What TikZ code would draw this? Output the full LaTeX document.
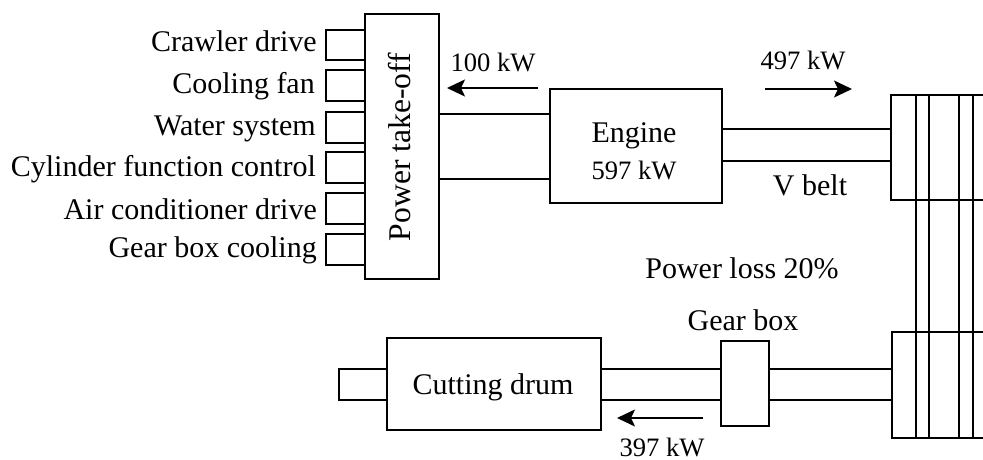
\documentclass[tikz,border=0pt]{standalone}
\usepackage{fontspec}
\setmainfont{Liberation Serif}
\usepackage{tikz}
\usetikzlibrary{arrows.meta, positioning, calc}
\newcommand{\fnorm}{\fontsize{30}{35}\selectfont}
\newcommand{\fkw}{\fontsize{26.6}{31}\selectfont}

\begin{document}
\begin{tikzpicture}[x=1pt, y=-1pt, font=\fnorm,
	caja/.style={rectangle, draw=black, line width=2pt, inner sep=0pt, align=center},
	stub/.style={caja, minimum width=39.5pt, minimum height=30.5pt},
	etq/.style={anchor=base east, inner sep=0pt},
	txt/.style={anchor=base, inner sep=0pt},
	pot/.style={txt, font=\fkw},
	eje/.style={line width=1.6pt},
	fl/.style={-{Stealth[length=18pt, width=17pt, inset=4pt]}, line width=1.8pt}]

	\useasboundingbox (0,0) rectangle (983,460);

	% power take-off side
	\node[caja, minimum width=74pt, minimum height=265pt] (pto) at (402,146.5) {};
	\node[txt, rotate=90, font=\fontsize{31.6}{36}\selectfont] (ptotxt) at (410,147) {Power take-off};
	\node[stub] (s1) at (345.5,45) {};
	\node[stub] (s2) at (345.5,85.5) {};
	\node[stub] (s3) at (345.5,127.5) {};
	\node[stub] (s4) at (345.5,167.5) {};
	\node[stub] (s5) at (345.5,208.5) {};
	\node[stub] (s6) at (345.5,249.5) {};
	\node[etq] (crawler) at (317,52) {Crawler drive};
	\node[etq] (fan) at (315,94) {Cooling fan};
	\node[etq] (water) at (316,135) {Water system};
	\node[etq] (cyl) at (316,176) {Cylinder function control};
	\node[etq] (air) at (317,219) {Air conditioner drive};
	\node[etq] (gearcool) at (317,257) {Gear box cooling};

	% engine
	\node[caja, minimum width=172pt, minimum height=114pt] (engine) at (636,146) {};
	\node[txt] (enginetxt) at (634,142) {Engine};
	\node[pot] (enginekw) at (634,179) {597 kW};
	\coordinate (pa) at (0,114);
	\coordinate (pb) at (0,179);
	\draw[eje] (pa -| pto.east) -- (pa -| engine.west);
	\draw[eje] (pb -| pto.east) -- (pb -| engine.west);
	\node[pot] (kw100) at (493,71) {100 kW};
	\coordinate (a1) at (538,88);
	\coordinate (a2) at (447,88);
	\draw[fl] (a1) -- (a2);
	\node[pot] (kw497) at (803,70) {497 kW};
	\coordinate (b1) at (765,89);
	\coordinate (b2) at (852,89);
	\draw[fl] (b1) -- (b2);
	\node[txt] (vbelt) at (810,195) {V belt};
	\node[txt] (loss) at (742,278) {Power loss 20\%};

	% belt pulleys, cut off by the page edge
	\coordinate (t1) at (983,95);
	\coordinate (t2) at (891,95);
	\coordinate (t3) at (891,200);
	\coordinate (t4) at (983,200);
	\coordinate (u1) at (983,332);
	\coordinate (u2) at (892,332);
	\coordinate (u3) at (892,438);
	\coordinate (u4) at (983,438);
	\draw[line width=2pt] (t1) -- (t2) -- (t3) -- (t4);
	\draw[line width=2pt] (u1) -- (u2) -- (u3) -- (u4);
	\foreach \xv in {916,929,959,973}
		\draw[eje] (\xv,95) -- (\xv,438);
	\coordinate (ea) at (0,129);
	\coordinate (eb) at (0,161);
	\draw[eje] (ea -| engine.east) -- (ea -| t2);
	\draw[line width=2pt] (eb -| engine.east) -- (eb -| t2);

	% cutting drum line
	\node[caja, minimum width=214pt, minimum height=92pt] (drum) at (494,384) {};
	\node[txt] (drumtxt) at (493,394) {Cutting drum};
	\node[caja, minimum width=48pt, minimum height=85pt] (gear) at (745,383.5) {};
	\node[caja, minimum width=48pt, minimum height=31pt] (tip) at (363,384.5) {};
	\node[txt] (geartxt) at (743,330) {Gear box};
	\coordinate (da) at (0,369);
	\coordinate (db) at (0,400);
	\draw[eje] (da -| drum.east) -- (da -| gear.west);
	\draw[eje] (db -| drum.east) -- (db -| gear.west);
	\draw[eje] (da -| gear.east) -- (da -| u2);
	\draw[eje] (db -| gear.east) -- (db -| u2);
	\coordinate (c1) at (703,418);
	\coordinate (c2) at (617,418);
	\draw[fl] (c1) -- (c2);
	\node[pot] (kw397) at (662,456) {397 kW};
\end{tikzpicture}
\end{document}
